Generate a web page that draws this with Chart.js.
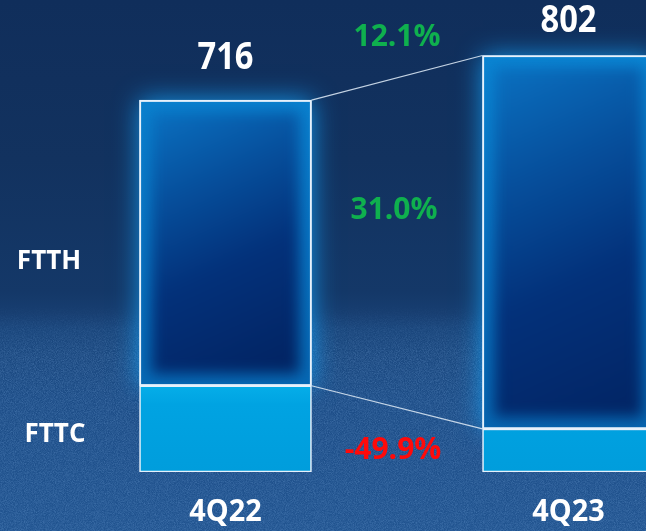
<!DOCTYPE html>
<html>
<head>
<meta charset="utf-8">
<script src="https://cdn.jsdelivr.net/npm/chart.js@4.4.1/dist/chart.umd.min.js"></script>
<style>
  html, body { margin: 0; padding: 0; width: 646px; height: 531px; overflow: hidden; }
  body {
    position: relative;
    background: linear-gradient(to bottom, #102e5b 0%, #12325f 30%, #143868 55%, #173e71 59%, #1a467c 62%, #1d4d87 75%, #215490 100%);
  }
  #grain {
    position: absolute; left: 0; top: 305px; width: 646px; height: 226px;
    background-image: url("data:image/svg+xml;utf8,<svg xmlns='http://www.w3.org/2000/svg' width='220' height='220'><filter id='n'><feTurbulence type='fractalNoise' baseFrequency='1.1' numOctaves='2' stitchTiles='stitch'/><feColorMatrix values='0 0 0 0 0.3  0 0 0 0 0.55  0 0 0 0 0.92  0 0 0 1.6 -0.5'/></filter><rect width='100%' height='100%' filter='url(%23n)'/></svg>");
    opacity: 0.27;
    -webkit-mask-image: linear-gradient(to bottom, transparent 0%, black 22%, black 100%);
    mask-image: linear-gradient(to bottom, transparent 0%, black 22%, black 100%);
  }
  #chart { position: absolute; left: 0; top: 0; }
</style>
</head>
<body>
<div id="grain"></div>
<canvas id="chart" width="740" height="531"></canvas>
<script>
// Broadband lines by access technology, year on year
const categories = ['4Q22', '4Q23'];
const fttcValues = [166, 83];
const ftthValues = [550, 719];
const seriesNames = ['FTTH', 'FTTC'];
const growthLabels = ['12.1%', '31.0%', '-49.9%'];

const FONT = "'Open Sans', Lato, sans-serif";

function ftthEdgeFill(context) {
  const chart = context.chart;
  const area = chart.chartArea;
  if (!area) return '#0a74c4';
  const g = chart.ctx.createLinearGradient(0, area.top, 0, area.bottom);
  g.addColorStop(0, '#0a88d6');
  g.addColorStop(0.5, '#0874c2');
  g.addColorStop(1, '#0662ac');
  return g;
}

function fttcFill(context) {
  const chart = context.chart;
  const area = chart.chartArea;
  if (!area) return '#00a2e0';
  const g = chart.ctx.createLinearGradient(0, area.bottom - 90, 0, area.bottom);
  g.addColorStop(0, '#06b0ea');
  g.addColorStop(0.25, '#00a3e2');
  g.addColorStop(1, '#009ddc');
  return g;
}

function rectOf(el) {
  const half = el.width / 2;
  return { left: el.x - half, right: el.x + half, top: Math.min(el.y, el.base), bottom: Math.max(el.y, el.base) };
}

const decorations = {
  id: 'decorations',
  beforeDatasetsDraw(chart) {
    const ctx = chart.ctx;
    const meta = chart.getDatasetMeta(1);
    meta.data.forEach(el => {
      const r = rectOf(el);
      ctx.save();
      ctx.shadowColor = 'rgba(20,165,250,0.85)';
      ctx.shadowBlur = 24;
      ctx.fillStyle = '#0a78c6';
      ctx.fillRect(r.left, r.top, r.right - r.left, r.bottom - r.top);
      ctx.restore();
    });
  },
  afterDatasetsDraw(chart) {
    const ctx = chart.ctx;
    const metaH = chart.getDatasetMeta(1);
    const metaC = chart.getDatasetMeta(0);

    // inner shading of the FTTH blocks
    metaH.data.forEach(el => {
      const r = rectOf(el);
      const inset = 12;
      ctx.save();
      ctx.beginPath();
      ctx.rect(r.left + 1.5, r.top + 1.5, r.right - r.left - 3, r.bottom - r.top - 3);
      ctx.clip();
      ctx.filter = 'blur(7px)';
      const x0 = r.left + inset, y0 = r.top + inset;
      const x1 = r.right - inset, y1 = r.bottom - inset;
      const g = ctx.createLinearGradient(x0, y0, x0 + (y1 - y0) * 0.45, y1);
      g.addColorStop(0, '#0a70c0');
      g.addColorStop(0.3, '#064f9c');
      g.addColorStop(0.6, '#03317a');
      g.addColorStop(1, '#022463');
      ctx.fillStyle = g;
      ctx.fillRect(x0, y0, x1 - x0, y1 - y0);
      ctx.restore();
      ctx.save();
      ctx.strokeStyle = '#e6f1fb';
      ctx.lineWidth = 1.6;
      ctx.strokeRect(r.left + 0.8, r.top + 0.8, r.right - r.left - 1.6, r.bottom - r.top - 1.6);
      ctx.restore();
    });

    // connectors between the two periods
    ctx.save();
    ctx.strokeStyle = 'rgba(215,228,242,0.9)';
    ctx.lineWidth = 1.2;
    [metaH, metaC].forEach(meta => {
      const a = rectOf(meta.data[0]);
      const b = rectOf(meta.data[1]);
      ctx.beginPath();
      ctx.moveTo(a.right, a.top);
      ctx.lineTo(b.left, b.top);
      ctx.stroke();
    });
    ctx.restore();

    const yScale = chart.scales.y;
    const area = chart.chartArea;
    const text = (str, x, y, size, color, sx) => {
      ctx.save();
      ctx.font = `bold ${size}px ${FONT}`;
      ctx.fillStyle = color;
      ctx.textAlign = 'center';
      ctx.textBaseline = 'middle';
      ctx.translate(x, y);
      ctx.scale(sx || 1, 1);
      ctx.fillText(str, 0, 0);
      ctx.restore();
    };

    // totals above each column
    const totalLift = [42, 34];
    metaH.data.forEach((el, i) => {
      const total = fttcValues[i] + ftthValues[i];
      text(String(total), el.x, rectOf(el).top - totalLift[i], 38, '#ffffff', 0.86);
    });

    // period labels under the columns
    metaC.data.forEach((el, i) => {
      text(categories[i], el.x, area.bottom + 40, 31, '#ffffff', 0.93);
    });

    // growth rates in the gap between the columns
    const gapX = (rectOf(metaH.data[0]).right + rectOf(metaH.data[1]).left) / 2;
    text(growthLabels[0], gapX, yScale.getPixelForValue(837), 30, '#0fb04e');
    text(growthLabels[1], gapX - 3, yScale.getPixelForValue(503), 30, '#0fb04e');
    text(growthLabels[2], gapX - 4, yScale.getPixelForValue(41), 30, '#ff0a0a');

    // series names on the left
    text(seriesNames[0], 49, yScale.getPixelForValue(406), 26, '#ffffff');
    text(seriesNames[1], 55, yScale.getPixelForValue(72), 26, '#ffffff');
  }
};

new Chart(document.getElementById('chart'), {
  type: 'bar',
  data: {
    labels: categories,
    datasets: [
      {
        label: seriesNames[1],
        data: fttcValues,
        backgroundColor: fttcFill,
        borderColor: '#e6f1fb',
        borderWidth: 1.6,
        borderSkipped: false,
        barThickness: 172
      },
      {
        label: seriesNames[0],
        data: ftthValues,
        backgroundColor: ftthEdgeFill,
        borderColor: '#e6f1fb',
        borderWidth: 1.6,
        borderSkipped: false,
        barThickness: 172
      }
    ]
  },
  options: {
    responsive: false,
    devicePixelRatio: 1,
    animation: false,
    layout: { padding: { left: 54, right: 0, top: 15, bottom: 59 } },
    plugins: { legend: { display: false }, tooltip: { enabled: false } },
    scales: {
      x: { stacked: true, display: false, offset: true },
      y: { stacked: true, display: false, min: 0, max: 880 }
    }
  },
  plugins: [decorations]
});
</script>
</body>
</html>
